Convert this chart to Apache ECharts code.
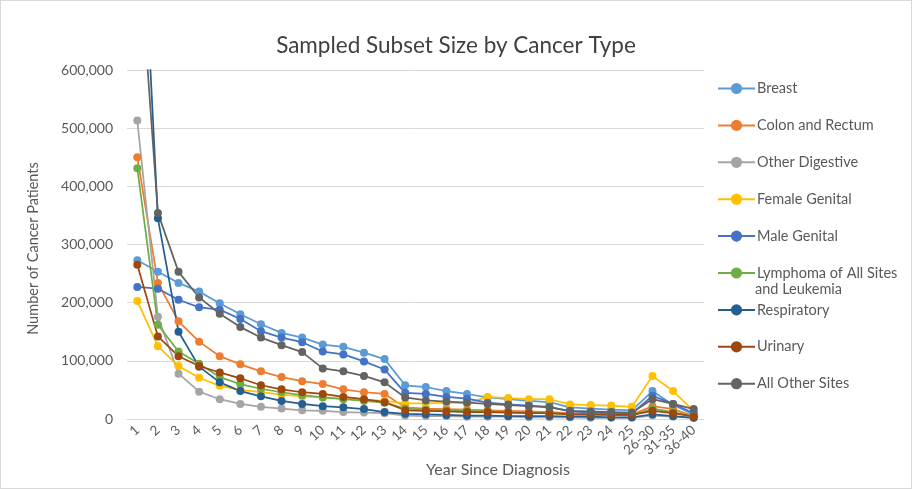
<!DOCTYPE html>
<html>
<head>
<meta charset="utf-8">
<script src="https://cdn.jsdelivr.net/npm/echarts@6/dist/echarts.min.js"></script>
<style>
  html, body { margin: 0; padding: 0; background: #ffffff; }
  #chart { width: 912px; height: 489px; box-sizing: border-box; border: 1px solid #d9d9d9; }
</style>
</head>
<body>
<div id="chart"></div>
<script>
// Follow-up year buckets
const years = ["1","2","3","4","5","6","7","8","9","10","11","12","13","14","15","16","17","18","19","20","21","22","23","24","25","26-30","31-35","36-40"];

// Sampled patients per cancer type, by year since diagnosis
const breast        = [273000,253000,234000,219000,199000,180000,163000,148000,140000,128000,124000,114000,103000,58000,55000,48000,43000,37000,34000,31000,29000,20000,18000,16000,15000,48000,24000,8000];
const colonRectum   = [450000,234000,168000,133000,108000,94000,82000,72000,65000,60000,51000,46000,43000,20000,18000,17000,16000,15000,14000,13000,12000,10000,9000,9000,8000,22000,17000,5000];
const otherDigest   = [513000,176000,78000,47000,34000,26000,21000,18000,15000,14000,12000,11000,10000,6000,5000,5000,4000,4000,4000,3000,3000,3000,2000,2000,2000,6000,4000,2000];
const femaleGenital = [203000,125000,91000,71000,57000,50000,46000,42000,39000,37000,35000,33000,31000,27000,27000,28000,27000,38000,36000,34000,34000,25000,24000,23000,21000,74000,48000,14000];
const maleGenital   = [227000,224000,205000,192000,188000,172000,151000,140000,132000,116000,111000,99000,85000,45000,43000,38000,35000,28000,25000,23000,21000,13000,11000,10000,9000,40000,26000,10000];
const lymphomaLeuk  = [431000,162000,116000,95000,72000,60000,52000,46000,41000,37000,34000,31000,28000,18000,16000,15000,14000,13000,12000,11000,10000,8000,7000,7000,6000,18000,12000,4000];
const respiratory   = [1050000,345000,150000,90000,63000,48000,39000,31000,26000,22000,20000,17000,12000,9000,8000,7000,6000,6000,5000,5000,5000,4000,4000,3000,3000,8000,5000,2000];
const urinary       = [265000,142000,108000,91000,80000,70000,58000,51000,46000,43000,38000,34000,29000,15000,14000,13000,12000,12000,11000,10000,10000,8000,8000,7000,7000,14000,10000,4000];
const allOther      = [850000,354000,253000,209000,181000,158000,140000,127000,115000,87000,82000,74000,63000,37000,32000,30000,28000,26000,24000,22000,20000,14000,13000,12000,11000,34000,26000,17000];

// Y-axis ticks
const yTicks = [0, 100000, 200000, 300000, 400000, 500000, 600000];

const seriesDefs = [
  { name: "Breast", data: breast, color: "#5B9BD5" },
  { name: "Colon and Rectum", data: colonRectum, color: "#ED7D31" },
  { name: "Other Digestive", data: otherDigest, color: "#A5A5A5" },
  { name: "Female Genital", data: femaleGenital, color: "#FFC000" },
  { name: "Male Genital", data: maleGenital, color: "#4472C4" },
  { name: "Lymphoma of All Sites", data: lymphomaLeuk, color: "#70AD47" },
  { name: "Respiratory", data: respiratory, color: "#255E91" },
  { name: "Urinary", data: urinary, color: "#9E480E" },
  { name: "All Other Sites", data: allOther, color: "#636363" }
];

const FONT = "Lato, 'Open Sans', sans-serif";
const TXT = "#595959";

const chart = echarts.init(document.getElementById("chart"));

// one legend block per series so the rows keep an even spacing
const legends = seriesDefs.map((s, i) => ({
  data: [s.name],
  orient: "vertical",
  left: 711,
  top: 75 + i * 36.9,
  itemWidth: 37,
  itemHeight: 14,
  itemGap: 0,
  textStyle: { fontFamily: FONT, fontSize: 14.5, color: TXT, padding: [0, 0, 0, -3] }
}));

chart.setOption({
  animation: false,
  backgroundColor: "#ffffff",
  title: {
    text: "Sampled Subset Size by Cancer Type",
    left: "center",
    top: 28,
    textStyle: { fontFamily: FONT, fontSize: 22.5, fontWeight: "normal", color: "#404040" }
  },
  legend: legends,
  grid: { left: 126, right: 207, top: 69, bottom: 69, containLabel: false },
  xAxis: {
    type: "category",
    data: years,
    boundaryGap: true,
    axisLine: { lineStyle: { color: "#d9d9d9" } },
    axisTick: { show: false },
    axisLabel: { interval: 0, rotate: 42, margin: 9, fontFamily: FONT, fontSize: 13.5, color: TXT }
  },
  yAxis: {
    type: "value",
    min: yTicks[0],
    max: yTicks[yTicks.length - 1],
    interval: yTicks[1] - yTicks[0],
    axisLine: { show: false },
    axisTick: { show: false },
    splitLine: { lineStyle: { color: "#d9d9d9", width: 1 } },
    axisLabel: {
      margin: 14,
      fontFamily: FONT, fontSize: 14, color: TXT,
      formatter: v => v.toLocaleString("en-US")
    },
    name: "Number of Cancer Patients",
    nameLocation: "middle",
    nameGap: 86,
    nameTextStyle: { fontFamily: FONT, fontSize: 14.5, color: TXT, padding: [0, 0, 0, -8] }
  },
  graphic: [
    {
      type: "text",
      left: 754,
      top: 281,
      style: { text: "and Leukemia", fontFamily: FONT, fontSize: 14.5, fill: TXT }
    },
    {
      type: "text",
      x: 497,
      y: 469,
      style: { text: "Year Since Diagnosis", fontFamily: FONT, fontSize: 16, fill: TXT, align: "center", verticalAlign: "middle" }
    }
  ],
  series: seriesDefs.map(s => ({
    name: s.name,
    type: "line",
    data: s.data,
    clip: true,
    symbol: "circle",
    symbolSize: 8,
    color: s.color,
    lineStyle: { width: 1.75, color: s.color },
    itemStyle: { color: s.color }
  }))
});
</script>
</body>
</html>
